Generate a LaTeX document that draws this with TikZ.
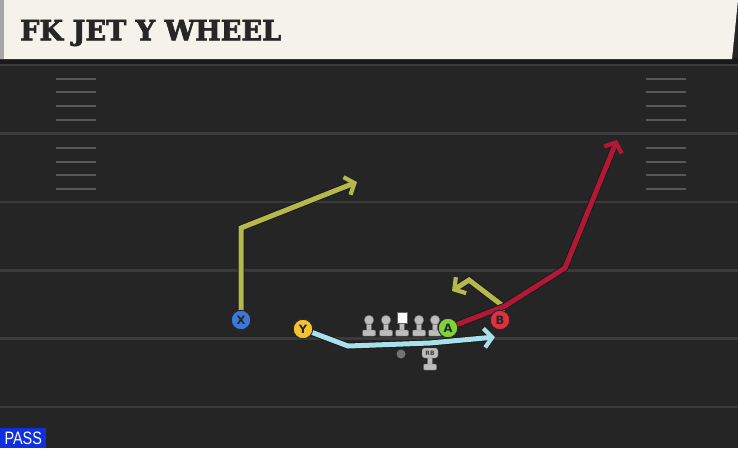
\documentclass[tikz,border=0pt]{standalone}
\usepackage{fontspec}
\setmainfont{DejaVu Sans}
\newfontfamily\titlefont[FakeBold=2.5]{DejaVu Serif Bold}
\newfontfamily\passfont{Liberation Sans}
\usetikzlibrary{arrows.meta}
\definecolor{field}{HTML}{252525}
\definecolor{yardc}{HTML}{3A3A3A}
\definecolor{cream}{HTML}{F5F2EC}
\definecolor{olivec}{HTML}{B5B84A}
\definecolor{bluec}{HTML}{A6E1EC}
\definecolor{redc}{HTML}{B01835}
\definecolor{xblue}{HTML}{3B78D8}
\definecolor{yyellow}{HTML}{F4C430}
\definecolor{agreen}{HTML}{7ED33A}
\definecolor{bred}{HTML}{E0303F}
\definecolor{passblue}{HTML}{1030E0}
\definecolor{lmgray}{HTML}{BDBDBD}
\tikzset{
  yard/.style={draw=yardc, line width=2.4pt},
  hashmark/.style={draw=yardc!85!white, line width=2pt},
  route/.style={line width=5pt, line join=miter, line cap=butt,
    preaction={draw=black!90, line width=6.8pt},
    -{Straight Barb[length=8pt,width=19pt,line width=4.2pt]}},
  player/.style={circle, minimum size=19.5pt, inner sep=0pt, draw=black!85, line width=0.9pt,
    font=\bfseries\fontsize{11.5}{11.5}\selectfont, text=black!85},
  lm/.style={fill=lmgray, draw=black!60, line width=0.4pt}
}
\newcommand\olineman[1]{%
  \filldraw[lm] (#1-2.4,321) rectangle (#1+2.4,331);
  \filldraw[lm, rounded corners=1pt] (#1-6.5,330) rectangle (#1+6.5,336);
  \filldraw[lm] (#1,320) circle (4.8);
}
\begin{document}
\begin{tikzpicture}[x=1pt,y=-1pt]
\useasboundingbox (0,0) rectangle (738,448);
\fill[field] (0,0) rectangle (738,448);
% yard lines
\foreach \yy in {65,133.5,202,270.5,338.5,407} \draw[yard] (0,\yy) -- (738,\yy);
% hash marks
\foreach \yy in {79,92,106,120,148,162,175,189} {
  \draw[hashmark] (56,\yy) -- (96,\yy);
  \draw[hashmark] (646,\yy) -- (686,\yy);
}
% title bar
\fill[black!90] (0,58) rectangle (738,64);
\fill[cream] (0,0) -- (738,0) -- (732,59) -- (0,59) -- cycle;
\fill[black!35] (0,0) rectangle (4,59);
\node[anchor=west, inner sep=0pt, text=black!85] (title) at (20,33)
  {\titlefont\fontsize{28}{28}\selectfont\scalebox{0.97}[1]{FK JET Y WHEEL}};
% PASS tag
\node[fill=passblue, text=white, anchor=south west, minimum width=46pt, minimum height=20pt,
  inner sep=0pt, font=\passfont\fontsize{18}{18}\selectfont] (pass) at (0,448) {\scalebox{0.8}[1]{PASS}};
% positions
\coordinate (pX) at (241,320);
\coordinate (pY) at (303,329);
\coordinate (pA) at (448,328);
\coordinate (pB) at (500,320);
\coordinate (x1) at (241,228);
\coordinate (x2) at (357,182);
\coordinate (y1) at (348,346);
\coordinate (y2) at (430,343);
\coordinate (y3) at (495,337);
\coordinate (a1) at (505,306);
\coordinate (a2) at (565,268);
\coordinate (a3) at (617,140);
\coordinate (b0) at (503,306);
\coordinate (b1) at (469,280);
\coordinate (b2) at (452,291);
% routes
\draw[route, olivec] (pX) -- (x1) -- (x2);
\draw[route, olivec] (pB) -- (b0) -- (b1) -- (b2);
\draw[route, redc] (pA) -- (a1) -- (a2) -- (a3);
\draw[route, bluec] (pY) -- (y1) -- (y2) -- (y3);
% offensive line
\olineman{369}
\olineman{386}
\olineman{419}
\olineman{435}
\filldraw[lm] (399.6,321) rectangle (404.4,331);
\filldraw[lm, rounded corners=1pt] (395.5,330) rectangle (408.5,336);
\filldraw[fill=white, draw=black!60, line width=0.4pt] (397,312.5) rectangle (407,323);
% ball
\fill[black!55] (401,354) circle (4.5);
% RB
\filldraw[lm] (427.6,357) rectangle (432.4,366);
\filldraw[lm, rounded corners=1pt] (423.5,364) rectangle (436.5,370);
\node[draw=black!60, fill=lmgray, rounded corners=2.5pt, minimum width=16pt, minimum height=10pt,
  inner sep=0pt, font=\bfseries\fontsize{6}{6}\selectfont, text=black!75, line width=0.4pt] (RB) at (430,353) {RB};
% players
\node[player, fill=xblue] (X) at (pX) {X};
\node[player, fill=yyellow] (Y) at (pY) {Y};
\node[player, fill=agreen] (A) at (pA) {A};
\node[player, fill=bred] (B) at (pB) {B};
\end{tikzpicture}
\end{document}
